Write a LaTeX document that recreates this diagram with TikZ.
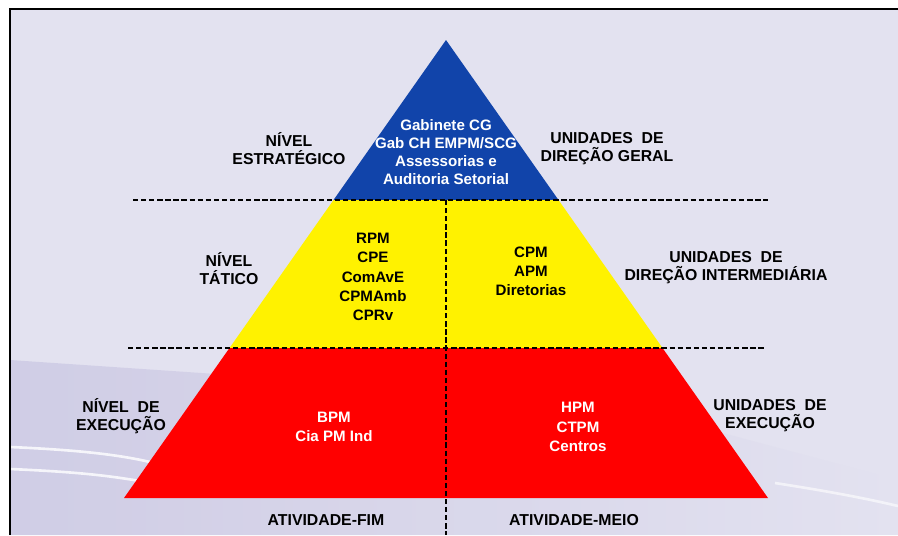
\documentclass[tikz,border=0pt]{standalone}
\usepackage{fontspec}
\setmainfont{Liberation Sans}
\usepackage{tikz}
\usetikzlibrary{calc}
\definecolor{fundo}{RGB}{227,226,240}
\definecolor{fundoEsc}{RGB}{206,203,229}
\definecolor{azul}{RGB}{17,68,170}
\tikzset{nivel label/.style={align=center,inner sep=0,font=\bfseries\fontsize{9}{10.3}\selectfont,text=black}}
\tikzset{camada label/.style={nivel label,font=\bfseries\fontsize{8.6}{10.9}\selectfont}}
\tikzset{divisa/.style={black,line width=0.8pt,dash pattern=on 3pt off 1.6pt}}

\begin{document}
\begin{tikzpicture}[x=0.02cm,y=-0.02cm]

            \def \apice{(446, 40)}
            \def \baseEsq{(124, 498)}
            \def \baseDir{(768, 498)}

            \useasboundingbox (0, 0) rectangle (898, 535);
            \fill[white] (0, 0) rectangle (898, 535);
            \fill[fundo] (10, 9) rectangle (898, 535);
            \shade[left color=fundoEsc, right color=fundo, opacity=0.9]
              (10, 360) -- (600, 400) -- (898, 480) -- (898, 535) -- (10, 535) -- cycle;
            \draw[white, line width=1.5pt, opacity=0.8] (10, 447) .. controls (80, 450) and (120, 455) .. (150, 462);
            \draw[white, line width=1.5pt, opacity=0.8] (10, 469) .. controls (80, 472) and (110, 476) .. (140, 481);
            \draw[white, line width=1.5pt, opacity=0.6] (775, 483) .. controls (820, 490) and (860, 497) .. (898, 506);
            \draw[black, line width=1.1pt] (10, 535) -- (10, 9) -- (898, 9);

            % camadas da piramide
            \fill[azul] \apice -- (333.5, 200) -- (558.5, 200) -- cycle;
            \fill[yellow] (333.5, 200) -- (229.5, 348) -- (662.5, 348) -- (558.5, 200) -- cycle;
            \fill[red] (229.5, 348) -- \baseEsq -- \baseDir -- (662.5, 348) -- cycle;

            \coordinate (l1a) at (133, 200);
            \coordinate (l1b) at (768, 200);
            \coordinate (l2a) at (128, 348);
            \coordinate (l2b) at (765, 348);
            \coordinate (va) at (446, 200);
            \coordinate (vb) at (446, 535);
            \draw[divisa] (l1a) -- (l1b);
            \draw[divisa] (l2a) -- (l2b);
            \draw[divisa] (va) -- (vb);

            \node[camada label, text=white, font=\bfseries\fontsize{8.6}{10.3}\selectfont] (gab) at (446, 152)
              {Gabinete CG\\Gab CH EMPM/SCG\\Assessorias e\\Auditoria Setorial};
            \node[camada label] (rpm) at (373, 277) {RPM\\CPE\\ComAvE\\CPMAmb\\CPRv};
            \node[camada label] (cpm) at (531, 271) {CPM\\APM\\Diretorias};
            \node[camada label, text=white] (bpm) at (334, 427) {BPM\\Cia PM Ind};
            \node[camada label, text=white] (hpm) at (578, 427) {HPM\\CTPM\\Centros};

            \node[nivel label] (estr) at (289, 149) {NÍVEL\\ESTRATÉGICO};
            \node[nivel label] (tat) at (229, 269) {NÍVEL\\TÁTICO};
            \node[nivel label] (exe) at (121, 416) {NÍVEL~~DE\\EXECUÇÃO};
            \node[nivel label] (dirGeral) at (607, 149) {UNIDADES~~DE\\DIREÇÃO GERAL};
            \node[nivel label] (dirInter) at (726, 268) {UNIDADES~~DE\\DIREÇÃO INTERMEDIÁRIA};
            \node[nivel label] (unidExe) at (770, 416) {UNIDADES~~DE\\EXECUÇÃO};

            \node[nivel label] (fim) at (326, 520) {ATIVIDADE-FIM};
            \node[nivel label] (meio) at (574, 520) {ATIVIDADE-MEIO};

\end{tikzpicture}
\end{document}
